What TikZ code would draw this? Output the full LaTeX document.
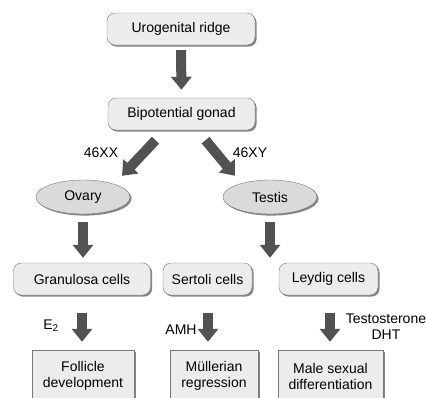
\documentclass[tikz,border=0pt]{standalone}
\usepackage{fontspec}
\setmainfont{Liberation Sans}
\usepackage{xcolor}
\usepackage{tikz}
\usetikzlibrary{arrows.meta,shapes.geometric,shadows}
\definecolor{boxgray}{RGB}{236,236,236}
\definecolor{ovalgray}{RGB}{218,218,218}
\definecolor{edgegray}{RGB}{120,120,120}
\definecolor{arrgray}{RGB}{82,82,82}

\begin{document}
\begin{tikzpicture}[x=1pt,y=-1pt,font=\fontsize{14}{16}\selectfont,
    shade/.style={drop shadow={shadow xshift=1.6pt,shadow yshift=-1.6pt,fill=black!60,opacity=.8}},
    rbox/.style={draw=edgegray,fill=boxgray,rounded corners=8pt,minimum height=32pt,inner sep=2pt,shade},
    oval/.style={ellipse,draw=edgegray,fill=ovalgray,minimum height=34pt,inner sep=1pt,shade},
    endbox/.style={draw=edgegray,fill=boxgray,align=center,minimum height=52pt,inner sep=2pt,shade},
    bigarr/.style={-{Triangle[width=20pt,length=13pt]},line width=10pt,arrgray},
    lbl/.style={inner sep=0pt,align=center}]
  \useasboundingbox (0,0) rectangle (426,397);
  \node[rbox,minimum width=148pt] (ridge) at (181,29)   {Urogenital ridge};
  \node[rbox,minimum width=147pt] (gonad) at (181.5,114) {Bipotential gonad};
  \node[oval,minimum width=94pt]  (ovary) at (83,197)   {Ovary};
  \node[oval,minimum width=94pt]  (testis) at (270,197) {Testis};
  \node[rbox,minimum width=137pt] (gran) at (82,279)    {Granulosa cells};
  \node[rbox,minimum width=89pt]  (sert) at (207.5,279) {Sertoli cells};
  \node[rbox,minimum width=99pt]  (leyd) at (328.5,279) {Leydig cells};
  \node[endbox,minimum width=102pt] (foll) at (83,376)  {Follicle\\development};
  \node[endbox,minimum width=88pt]  (mull) at (214,376) {Müllerian\\regression};
  \node[endbox,minimum width=105pt] (male) at (330.5,376) {Male sexual\\differentiation};
  \node[lbl] (xx) at (101,153) {46XX};
  \node[lbl] (xy) at (250,153) {46XY};
  \node[lbl] (estr) at (51,326) {E\textsubscript{2}};
  \node[lbl] (amh) at (181,330) {AMH};
  \node[lbl] (testo) at (386,327) {Testosterone\\DHT};
  \draw[bigarr,shorten <=5pt,shorten >=8pt] (ridge.south) -- (gonad.north);
  \draw[bigarr] ([xshift=-26pt,yshift=-10pt]gonad.south) -- ([xshift=39pt,yshift=4pt]ovary.north);
  \draw[bigarr] ([xshift=24pt,yshift=-10pt]gonad.south) -- ([xshift=-35pt,yshift=4pt]testis.north);
  \draw[bigarr,shorten <=8pt,shorten >=5pt] (ovary.south) -- (ovary.south |- gran.north);
  \draw[bigarr,shorten <=8pt,shorten >=5pt] (testis.south) -- (testis.south |- sert.north);
  \draw[bigarr,shorten <=18pt,shorten >=8pt] (gran.south) -- (gran.south |- foll.north);
  \draw[bigarr,shorten <=18pt,shorten >=8pt] ([xshift=0.5pt]sert.south) -- ([xshift=0.5pt]sert.south |- mull.north);
  \draw[bigarr,shorten <=18pt,shorten >=8pt] ([xshift=1.5pt]leyd.south) -- ([xshift=1.5pt]leyd.south |- male.north);
\end{tikzpicture}
\end{document}
